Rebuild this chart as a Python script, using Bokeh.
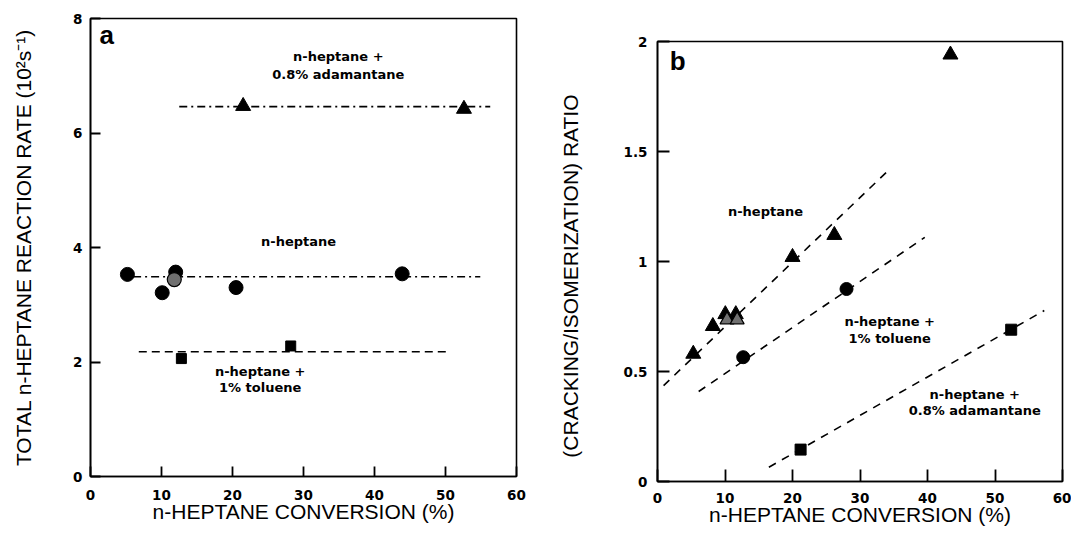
from bokeh.plotting import figure
from bokeh.models import Range1d, FixedTicker, Label
from bokeh.embed import file_html
from bokeh.resources import INLINE

# ---------------- data: panel a (total reaction rate) ----------------
a_hep_x = [5.2, 10.1, 12.0, 20.5, 43.9]
a_hep_y = [3.53, 3.21, 3.57, 3.30, 3.54]
a_hep_stip_x = [11.8]
a_hep_stip_y = [3.44]
a_tol_x = [12.8, 28.2]
a_tol_y = [2.06, 2.28]
a_ada_x = [21.5, 52.6]
a_ada_y = [6.47, 6.42]
a_hep_fit_x = [6.0, 54.9]
a_hep_fit_y = [3.49, 3.49]
a_tol_fit_x = [6.8, 50.3]
a_tol_fit_y = [2.18, 2.18]
a_ada_fit_x = [12.5, 56.3]
a_ada_fit_y = [6.46, 6.46]
a_xticks = [0, 10, 20, 30, 40, 50, 60]
a_yticks = [0, 2, 4, 6, 8]

# ---------------- data: panel b (cracking/isomerization ratio) ----------------
b_hep_x = [5.3, 8.2, 10.05, 11.6, 20.0, 26.2, 43.4]
b_hep_y = [0.58, 0.706, 0.76, 0.76, 1.02, 1.12, 1.94]
b_hep_stip_x = [10.3, 11.8]
b_hep_stip_y = [0.735, 0.735]
b_tol_x = [12.7, 28.0]
b_tol_y = [0.565, 0.875]
b_ada_x = [21.2, 52.4]
b_ada_y = [0.145, 0.69]
b_hep_fit_x = [0.9, 34.4]
b_hep_fit_y = [0.436, 1.42]
b_tol_fit_x = [6.1, 39.6]
b_tol_fit_y = [0.409, 1.11]
b_ada_fit_x = [16.5, 57.3]
b_ada_fit_y = [0.065, 0.777]
b_xticks = [0, 10, 20, 30, 40, 50, 60]
b_yticks = [0, 0.5, 1, 1.5, 2]
b_ytick_labels = ["0", "0.5", "1", "1.5", "2"]

X_LABEL = "n-HEPTANE CONVERSION (%)"
A_Y_LABEL = "TOTAL n-HEPTANE REACTION RATE (10\u00b2s\u207b\u00b9)"
B_Y_LABEL = "(CRACKING/ISOMERIZATION) RATIO"

AX_FONT = "Liberation Sans"
TICK_FONT = "DejaVu Sans"
NOTE_FONT = "DejaVu Sans"


def style(p, xticks, yticks, tick_len, xl_standoff, yl_standoff, xtick_standoff, ytick_standoff):
    p.grid.visible = False
    p.outline_line_color = "black"
    p.outline_line_width = 1.6
    p.background_fill_color = "white"
    p.border_fill_color = "white"
    p.xaxis.ticker = FixedTicker(ticks=xticks)
    p.yaxis.ticker = FixedTicker(ticks=yticks)
    for ax in (p.xaxis[0], p.yaxis[0]):
        ax.axis_line_color = "black"
        ax.axis_line_width = 1.6
        ax.major_tick_in = tick_len
        ax.major_tick_out = 0
        ax.major_tick_line_width = 1.8
        ax.major_tick_line_color = "black"
        ax.minor_tick_line_color = None
        ax.major_label_text_font = TICK_FONT
        ax.major_label_text_font_style = "bold"
        ax.major_label_text_font_size = "13.5px"
        ax.major_label_text_color = "black"
        ax.axis_label_text_font = AX_FONT
        ax.axis_label_text_font_style = "normal"
        ax.axis_label_text_font_size = "21px"
        ax.axis_label_text_color = "black"
    p.xaxis.axis_label_standoff = xl_standoff
    p.yaxis.axis_label_standoff = yl_standoff
    p.xaxis.major_label_standoff = xtick_standoff
    p.yaxis.major_label_standoff = ytick_standoff


def note(p, x, y, text, size="13px", font=NOTE_FONT):
    p.add_layout(Label(x=x, y=y, text=text, text_font=font, text_font_size=size,
                       text_font_style="bold", text_align="center",
                       text_baseline="middle", text_color="black"))


# ---------------- panel a ----------------
pa = figure(title=None, width=532, height=520, min_border_left=82, min_border_right=24,
            min_border_top=10, min_border_bottom=52,
            x_range=Range1d(0, 60), y_range=Range1d(0, 8),
            output_backend="svg", toolbar_location=None, tools="")
pa.xaxis.axis_label = X_LABEL
pa.yaxis.axis_label = A_Y_LABEL
style(pa, a_xticks, a_yticks, 10, -3, 35, 13, 8)

pa.line(a_ada_fit_x, a_ada_fit_y, line_color="black", line_width=1.6, line_dash="8 4 2 4")
pa.line(a_hep_fit_x, a_hep_fit_y, line_color="black", line_width=1.6, line_dash="8 4 2 4")
pa.line(a_tol_fit_x, a_tol_fit_y, line_color="black", line_width=1.6, line_dash="8 5")

pa.scatter(a_hep_x, a_hep_y, marker="circle", size=14, fill_color="black", line_color="black")
pa.scatter(a_hep_stip_x, a_hep_stip_y, marker="circle", size=14, fill_color="#707070",
           line_color="black", line_width=1.2)
pa.scatter(a_tol_x, a_tol_y, marker="square", size=10, fill_color="black", line_color="black")
pa.scatter(a_ada_x, a_ada_y, marker="triangle", size=15, fill_color="black", line_color="black")

note(pa, 2.3, 7.71, "a", size="26px", font=AX_FONT)
note(pa, 34.9, 7.33, "n-heptane +")
note(pa, 34.9, 7.02, "0.8% adamantane")
note(pa, 29.3, 4.1, "n-heptane")
note(pa, 23.9, 1.84, "n-heptane +")
note(pa, 23.9, 1.55, "1% toluene")

# ---------------- panel b ----------------
pb = figure(title=None, width=531, height=520, min_border_left=117, min_border_right=9,
            min_border_top=33, min_border_bottom=45,
            x_range=Range1d(0, 60), y_range=Range1d(0, 2),
            output_backend="svg", toolbar_location=None, tools="")
pb.xaxis.axis_label = X_LABEL
pb.yaxis.axis_label = B_Y_LABEL + "\u00a0" * 5
style(pb, b_xticks, b_yticks, 12, -3, 39, 11, 10)
pb.yaxis.major_label_overrides = {t: s for t, s in zip(b_yticks, b_ytick_labels)}

for fx, fy in ((b_hep_fit_x, b_hep_fit_y), (b_tol_fit_x, b_tol_fit_y), (b_ada_fit_x, b_ada_fit_y)):
    pb.line(fx, fy, line_color="black", line_width=1.6, line_dash="8 7")

pb.scatter(b_hep_x, b_hep_y, marker="triangle", size=15, fill_color="black", line_color="black")
pb.scatter(b_hep_stip_x, b_hep_stip_y, marker="triangle", size=14, fill_color="#707070",
           line_color="black", line_width=1.2)
pb.scatter(b_tol_x, b_tol_y, marker="circle", size=13, fill_color="black", line_color="black")
pb.scatter(b_ada_x, b_ada_y, marker="square", size=11, fill_color="black", line_color="black")

note(pb, 3.0, 1.91, "b", size="26px", font=AX_FONT)
note(pb, 16.0, 1.226, "n-heptane")
note(pb, 34.4, 0.727, "n-heptane +")
note(pb, 34.4, 0.652, "1% toluene")
note(pb, 47.0, 0.394, "n-heptane +")
note(pb, 47.0, 0.323, "0.8% adamantane")

# two independent roots placed side by side (no cross-plot frame alignment)
html = file_html([pa, pb], INLINE, title="n-heptane conversion")
side_css = ("<style>html, body { margin: 0; padding: 0; } "
            "body { display: flex; flex-direction: row; flex-wrap: nowrap; "
            "align-items: flex-start; margin: 8px; }</style>")
html = html.replace("</head>", side_css + "</head>", 1)
open("out.html", "w").write(html)
